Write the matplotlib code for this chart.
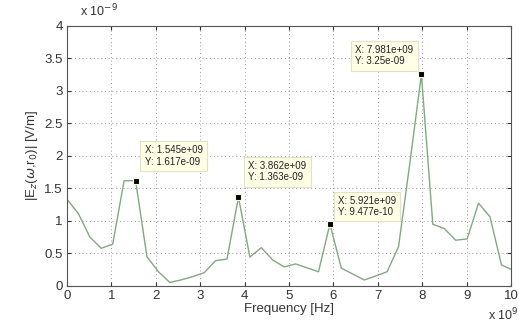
import numpy as np
import matplotlib
matplotlib.use("Agg")
import matplotlib.pyplot as plt
from matplotlib.ticker import FuncFormatter

plt.rcParams['font.family'] = ['Liberation Sans', 'DejaVu Sans']

# frequency samples [Hz] and field magnitude [V/m]
freq = [0.0, 0.2575e9, 0.5149e9, 0.7724e9, 1.030e9, 1.287e9, 1.545e9, 1.802e9,
        2.060e9, 2.317e9, 2.575e9, 2.832e9, 3.090e9, 3.347e9, 3.604e9, 3.862e9,
        4.119e9, 4.377e9, 4.634e9, 4.892e9, 5.149e9, 5.407e9, 5.664e9, 5.921e9,
        6.179e9, 6.436e9, 6.694e9, 6.951e9, 7.209e9, 7.466e9, 7.724e9, 7.981e9,
        8.238e9, 8.496e9, 8.753e9, 9.011e9, 9.268e9, 9.526e9, 9.783e9, 10.04e9]
ez = [1.33e-9, 1.11e-9, 0.75e-9, 0.575e-9, 0.64e-9, 1.615e-9, 1.617e-9, 0.445e-9,
      0.215e-9, 0.05e-9, 0.09e-9, 0.14e-9, 0.2e-9, 0.385e-9, 0.41e-9, 1.363e-9,
      0.44e-9, 0.585e-9, 0.395e-9, 0.29e-9, 0.335e-9, 0.275e-9, 0.215e-9, 0.9477e-9,
      0.27e-9, 0.18e-9, 0.088e-9, 0.15e-9, 0.215e-9, 0.6e-9, 1.9e-9, 3.25e-9,
      0.945e-9, 0.88e-9, 0.70e-9, 0.72e-9, 1.27e-9, 1.06e-9, 0.32e-9, 0.24e-9]

# data tips: sample index and label text
tip_idx = [6, 15, 23, 31]
tip_text = ['X: 1.545e+09\nY: 1.617e-09',
            'X: 3.862e+09\nY: 1.363e-09',
            'X: 5.921e+09\nY: 9.477e-10',
            'X: 7.981e+09\nY: 3.25e-09']
tip_offset = [(9, 14), (10, 15), (8, 7), (-8, 8)]
tip_ha = ['left', 'left', 'left', 'right']

fig = plt.figure(figsize=(5.19, 3.26), dpi=100)
ax = fig.add_axes([0.129, 0.1236, 0.8557, 0.7974])

ax.plot(freq, ez, color='#82a882', lw=1.0, clip_on=True)
ax.plot([freq[i] for i in tip_idx], [ez[i] for i in tip_idx], 's',
        color='black', markersize=5, markeredgecolor='#fbfbe0', mew=0.8, zorder=5)

for i, txt, off, ha in zip(tip_idx, tip_text, tip_offset, tip_ha):
    ax.annotate(txt, xy=(freq[i], ez[i]), xytext=off, textcoords='offset pixels',
                ha=ha, va='bottom', multialignment='left', fontsize=7,
                color='#222222', linespacing=1.15,
                bbox=dict(boxstyle='square,pad=0.45', fc='#ffffe6', ec='#e2e2c8', lw=0.8),
                zorder=6)

ax.set_xlim(0, 10e9)
ax.set_ylim(0, 4e-9)
ax.set_xticks(np.arange(0, 11) * 1e9)
ax.set_yticks(np.arange(0, 9) * 0.5e-9)
ax.xaxis.set_major_formatter(FuncFormatter(lambda v, p: f'{v / 1e9:g}'))
ax.yaxis.set_major_formatter(FuncFormatter(lambda v, p: f'{v / 1e-9:g}'))
ax.tick_params(direction='in', length=3, top=True, right=True, labelsize=9.5,
               colors='#333333', pad=3)
ax.grid(True, linestyle=(0, (1, 3.5)), color='#777777', lw=0.6)
for s in ax.spines.values():
    s.set_color('#555555')
    s.set_linewidth(0.8)

ax.set_xlabel('Frequency [Hz]', fontsize=9.5, color='#333333', labelpad=1)
ax.set_ylabel(r'|E$_z$($\omega$,r$_0$)| [V/m]', fontsize=9.5, color='#333333', labelpad=3)

fig.text(0.155, 0.965, r'x 10$^{-9}$', fontsize=9, color='#333333', va='center')
fig.text(0.94, 0.035, r'x 10$^{9}$', fontsize=9, color='#333333', va='center')

fig.savefig('out.png', dpi=100)
